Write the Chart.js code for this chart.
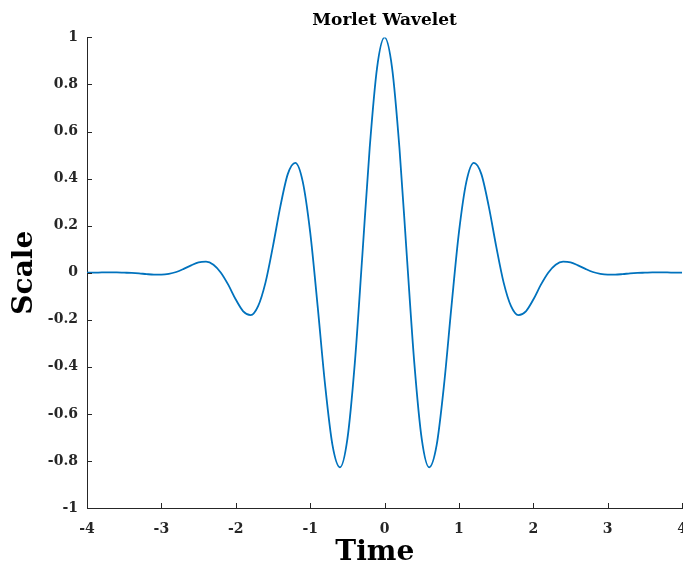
<!DOCTYPE html>
<html>
<head>
<meta charset="utf-8">
<script src="https://cdn.jsdelivr.net/npm/chart.js@4/dist/chart.umd.min.js"></script>
<style>
  html, body { margin: 0; padding: 0; background: #fff; overflow: hidden; }
  #wrap { width: 683px; height: 565px; overflow: hidden; position: relative; }
  canvas { display: block; }
</style>
</head>
<body>
<div id="wrap"><canvas id="c" width="700" height="565"></canvas></div>
<script>
// Sample times (s)
const times = [
  -4.0, -3.9, -3.8, -3.7, -3.6, -3.5, -3.4, -3.3, -3.2, -3.1,
  -3.0, -2.9, -2.8, -2.7, -2.6, -2.5, -2.4, -2.3, -2.2, -2.1,
  -2.0, -1.9, -1.8, -1.7, -1.6, -1.5, -1.4, -1.3, -1.2, -1.1,
  -1.0, -0.9, -0.8, -0.7, -0.6, -0.5, -0.4, -0.3, -0.2, -0.1,
   0.0,
   0.1,  0.2,  0.3,  0.4,  0.5,  0.6,  0.7,  0.8,  0.9,  1.0,
   1.1,  1.2,  1.3,  1.4,  1.5,  1.6,  1.7,  1.8,  1.9,  2.0,
   2.1,  2.2,  2.3,  2.4,  2.5,  2.6,  2.7,  2.8,  2.9,  3.0,
   3.1,  3.2,  3.3,  3.4,  3.5,  3.6,  3.7,  3.8,  3.9,  4.0
];

// Wavelet amplitude at each sample time
const waveletValues = [
   0.000,  0.000,  0.001,  0.001,  0.001,  0.000, -0.001, -0.003, -0.006, -0.008,
  -0.008, -0.005,  0.003,  0.016,  0.031,  0.044,  0.047,  0.034,  0.000, -0.052,
  -0.114, -0.164, -0.180, -0.142, -0.041,  0.113,  0.283,  0.420,  0.467,  0.387,
   0.172, -0.141, -0.475, -0.733, -0.827, -0.707, -0.384,  0.068,  0.530,  0.873,
   1.000,
   0.873,  0.530,  0.068, -0.384, -0.707, -0.827, -0.733, -0.475, -0.141,  0.172,
   0.387,  0.467,  0.420,  0.283,  0.113, -0.041, -0.142, -0.180, -0.164, -0.114,
  -0.052,  0.000,  0.034,  0.047,  0.044,  0.031,  0.016,  0.003, -0.005, -0.008,
  -0.008, -0.006, -0.003, -0.001,  0.000,  0.001,  0.001,  0.001,  0.000,  0.000
];

const xTicks = [-4, -3, -2, -1, 0, 1, 2, 3, 4];
const yTicks = [-1, -0.8, -0.6, -0.4, -0.2, 0, 0.2, 0.4, 0.6, 0.8, 1];

const points = times.map((t, i) => ({ x: t, y: waveletValues[i] }));

const axisColor = '#262626';
const serif = "'DejaVu Serif', 'Liberation Serif', serif";

// Short tick marks pointing into the plot area
const inwardTicks = {
  id: 'inwardTicks',
  afterDraw(chart) {
    const { ctx, chartArea, scales } = chart;
    const len = 5;
    ctx.save();
    ctx.strokeStyle = axisColor;
    ctx.lineWidth = 1;
    ctx.beginPath();
    xTicks.forEach(v => {
      const px = Math.round(scales.x.getPixelForValue(v)) + 0.5;
      ctx.moveTo(px, chartArea.bottom);
      ctx.lineTo(px, chartArea.bottom - len);
    });
    yTicks.forEach(v => {
      const py = Math.round(scales.y.getPixelForValue(v)) + 0.5;
      ctx.moveTo(chartArea.left, py);
      ctx.lineTo(chartArea.left + len, py);
    });
    ctx.stroke();
    ctx.restore();
  }
};

new Chart(document.getElementById('c'), {
  type: 'scatter',
  data: {
    datasets: [{
      data: points,
      showLine: true,
      borderColor: '#0072BD',
      borderWidth: 1.8,
      pointRadius: 0,
      pointHoverRadius: 0,
      cubicInterpolationMode: 'monotone',
      fill: false
    }]
  },
  options: {
    responsive: false,
    animation: false,
    devicePixelRatio: 1,
    layout: { padding: { top: 0, left: 0, right: 17, bottom: 0 } },
    plugins: {
      legend: { display: false },
      tooltip: { enabled: false },
      title: {
        display: true,
        text: 'Morlet Wavelet',
        fullSize: false,
        color: '#000',
        font: { family: serif, size: 17, weight: 'bold', lineHeight: 1.2 },
        padding: { top: 10, bottom: 7 }
      }
    },
    scales: {
      x: {
        type: 'linear',
        min: -4,
        max: 4,
        afterBuildTicks(scale) { scale.ticks = xTicks.map(v => ({ value: v })); },
        afterFit(scale) { scale.height = 57; },
        grid: { display: false, drawTicks: false },
        border: { display: true, color: axisColor, width: 1 },
        ticks: {
          color: axisColor,
          padding: 13,
          maxRotation: 0,
          font: { family: serif, size: 14, weight: 'bold' },
          callback: v => String(v)
        },
        title: {
          display: true,
          text: 'Time  ',
          color: '#000',
          font: { family: serif, size: 28, weight: 'bold', lineHeight: 0.85 },
          padding: { top: 0, bottom: 0 }
        }
      },
      y: {
        type: 'linear',
        min: -1,
        max: 1,
        afterBuildTicks(scale) { scale.ticks = yTicks.map(v => ({ value: v })); },
        afterFit(scale) { scale.width = 87; },
        grid: { display: false, drawTicks: false },
        border: { display: true, color: axisColor, width: 1 },
        ticks: {
          color: axisColor,
          padding: 9,
          font: { family: serif, size: 14, weight: 'bold' },
          callback: v => String(Number(v.toFixed(1)))
        },
        title: {
          display: true,
          text: 'Scale',
          color: '#000',
          font: { family: serif, size: 28, weight: 'bold', lineHeight: 1 },
          padding: { top: 11, bottom: 0 }
        }
      }
    }
  },
  plugins: [inwardTicks]
});
</script>
</body>
</html>
